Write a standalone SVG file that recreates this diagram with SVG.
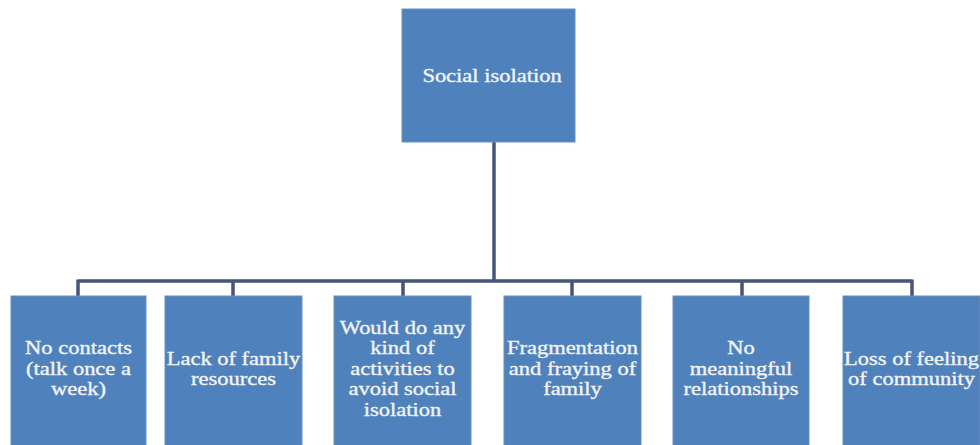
<svg xmlns="http://www.w3.org/2000/svg" width="980" height="445" viewBox="0 0 980 445">
<style>
.box{fill:#4f81bd;stroke:#6d8fbf;stroke-width:1}
.t{font-family:"Liberation Serif","Times New Roman",serif;font-size:18px;fill:#f2f4f8;stroke:#f2f4f8;stroke-width:0.35;text-anchor:middle}
.c{fill:none;stroke:#46567a;stroke-width:3.5}
</style>
<rect width="980" height="445" fill="#ffffff"/>
<g id="connectors">
<path class="c" d="M494,142 V281 M78,281 H912 M78,279.5 V296 M233,279.5 V296 M403,279.5 V296 M572,279.5 V296 M742,279.5 V296 M912,279.5 V296"/>
</g>
<g id="root">
<rect class="box" x="402" y="9" width="173" height="133"/>
<g transform="translate(492,0) scale(1.25,1)"><text class="t" x="0" y="82">Social isolation</text></g>
</g>
<g id="n1">
<rect class="box" x="11" y="296" width="135" height="155"/>
<g transform="translate(78.5,0) scale(1.25,1)"><text class="t" x="0" y="354.5">No contacts</text><text class="t" x="0" y="375">(talk once a</text><text class="t" x="0" y="395.5">week)</text></g>
</g>
<g id="n2">
<rect class="box" x="165" y="296" width="137" height="155"/>
<g transform="translate(233.5,0) scale(1.25,1)"><text class="t" x="0" y="364.8">Lack of family</text><text class="t" x="0" y="385.2">resources</text></g>
</g>
<g id="n3">
<rect class="box" x="334" y="296" width="137" height="155"/>
<g transform="translate(402.5,0) scale(1.25,1)"><text class="t" x="0" y="334">Would do any</text><text class="t" x="0" y="354.5">kind of</text><text class="t" x="0" y="375">activities to</text><text class="t" x="0" y="395.5">avoid social</text><text class="t" x="0" y="416">isolation</text></g>
</g>
<g id="n4">
<rect class="box" x="504" y="296" width="137" height="155"/>
<g transform="translate(572.5,0) scale(1.25,1)"><text class="t" x="0" y="354.5">Fragmentation</text><text class="t" x="0" y="375">and fraying of</text><text class="t" x="0" y="395.5">family</text></g>
</g>
<g id="n5">
<rect class="box" x="673" y="296" width="136" height="155"/>
<g transform="translate(741,0) scale(1.25,1)"><text class="t" x="0" y="354.5">No</text><text class="t" x="0" y="375">meaningful</text><text class="t" x="0" y="395.5">relationships</text></g>
</g>
<g id="n6">
<rect class="box" x="843" y="296" width="137" height="155"/>
<g transform="translate(911.5,0) scale(1.25,1)"><text class="t" x="0" y="364.8">Loss of feeling</text><text class="t" x="0" y="385.2">of community</text></g>
</g>
</svg>
